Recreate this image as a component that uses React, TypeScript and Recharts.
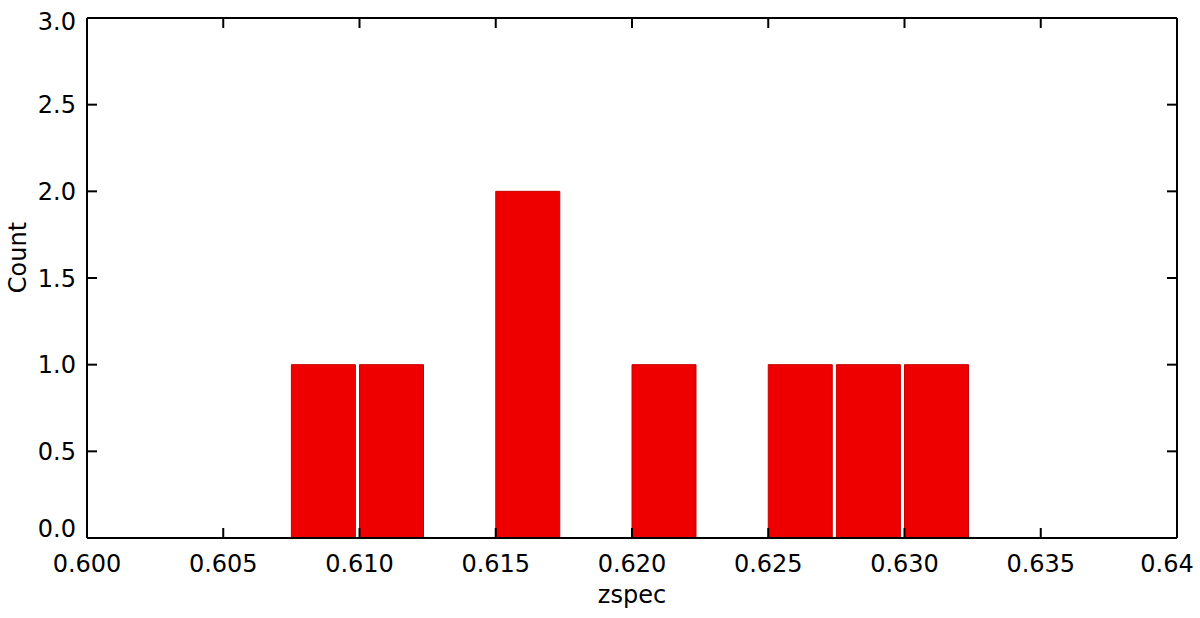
import React from 'react';
import { ComposedChart, Bar, XAxis, YAxis, Rectangle, Label } from 'recharts';

const binStarts = [0.6, 0.6025, 0.605, 0.6075, 0.61, 0.6125, 0.615, 0.6175, 0.62, 0.6225, 0.625, 0.6275, 0.63, 0.6325, 0.635, 0.6375];
const counts = [0, 0, 0, 1, 1, 0, 2, 0, 1, 0, 1, 1, 1, 0, 0, 0];
const xTicks = [0.6, 0.605, 0.61, 0.615, 0.62, 0.625, 0.63, 0.635, 0.64];
const xTickLabels = ['0.600', '0.605', '0.610', '0.615', '0.620', '0.625', '0.630', '0.635', '0.64'];
const yTicks = [0, 0.5, 1, 1.5, 2, 2.5, 3];
const yTickLabels = ['0.0', '0.5', '1.0', '1.5', '2.0', '2.5', '3.0'];

const data = binStarts.map((b, i) => ({ bin: b, x0: b, count: counts[i] }));

const FONT = '"DejaVu Sans", sans-serif';
const FS = 24;
const XDOM: [number, number] = [0.6, 0.64];
const YDOM: [number, number] = [0, 3];
const THIN = 0.01;

const XTick = (props: any) => {
  const { x, y, index, payload } = props;
  const i = xTicks.indexOf(payload.value);
  const label = i >= 0 ? xTickLabels[i] : String(payload.value);
  const dx = index === xTicks.length - 1 ? -10 : 0;
  return (
    <text x={x + dx} y={y} dy="0.71em" textAnchor="middle" fontFamily={FONT} fontSize={FS} fill="#000">
      {label}
    </text>
  );
};

const YTick = (props: any) => {
  const { x, y, index, payload } = props;
  const i = yTicks.indexOf(payload.value);
  const label = i >= 0 ? yTickLabels[i] : String(payload.value);
  let shift = 0;
  if (index === 0) shift = -10;
  if (index === yTicks.length - 1) shift = 3.5;
  return (
    <text x={x} y={y + shift} dy="0.355em" textAnchor="end" fontFamily={FONT} fontSize={FS} fill="#000">
      {label}
    </text>
  );
};

const BarShape = (props: any) => {
  const { x, y, width, height } = props;
  if (!height || height <= 0) return null;
  return <Rectangle x={x} y={y} width={width - 4} height={height} fill="#ee0000" stroke="#c80000" strokeWidth={1} />;
};

const frameLine = { stroke: '#000', strokeWidth: 2 };

export default function App() {
  return (
    <div style={{ position: 'absolute', left: 0, top: 0, width: 1200, height: 618, background: '#fff' }}>
      <ComposedChart width={1200} height={618} data={data} margin={{ top: 18, right: 23, bottom: 0, left: 0 }} barCategoryGap={0} barGap={0}>
        <XAxis
          xAxisId="labels"
          dataKey="x0"
          type="number"
          domain={XDOM}
          allowDataOverflow
          ticks={xTicks}
          interval={0}
          height={80}
          axisLine={false}
          tickLine={false}
          tickSize={0}
          tickMargin={17}
          tick={<XTick />}
        >
          <Label
            content={(p: any) => {
              const vb = p.viewBox || {};
              return (
                <text x={vb.x + vb.width / 2} y={vb.y + 65} textAnchor="middle" fontFamily={FONT} fontSize={FS} fill="#000">
                  zspec
                </text>
              );
            }}
          />
        </XAxis>
        <XAxis xAxisId="cat" dataKey="bin" type="category" hide height={0} />
        <XAxis
          xAxisId="frameBottom"
          dataKey="x0"
          type="number"
          domain={XDOM}
          allowDataOverflow
          ticks={xTicks}
          interval={0}
          mirror
          height={THIN}
          orientation="bottom"
          axisLine={frameLine}
          tickLine={frameLine}
          tickSize={10}
          tickFormatter={() => ''}
        />
        <XAxis
          xAxisId="frameTop"
          dataKey="x0"
          type="number"
          domain={XDOM}
          allowDataOverflow
          ticks={xTicks}
          interval={0}
          mirror
          height={THIN}
          orientation="top"
          axisLine={frameLine}
          tickLine={frameLine}
          tickSize={10}
          tickFormatter={() => ''}
        />
        <YAxis
          yAxisId="main"
          type="number"
          domain={YDOM}
          allowDataOverflow
          ticks={yTicks}
          interval={0}
          width={87}
          axisLine={false}
          tickLine={false}
          tickSize={0}
          tickMargin={11}
          tick={<YTick />}
        >
          <Label
            content={(p: any) => {
              const vb = p.viewBox || {};
              const cx = vb.x + 25.5;
              const cy = vb.y + vb.height / 2 - 20.5;
              return (
                <text x={cx} y={cy} transform={`rotate(-90 ${cx} ${cy})`} textAnchor="middle" fontFamily={FONT} fontSize={FS} fill="#000">
                  Count
                </text>
              );
            }}
          />
        </YAxis>
        <YAxis
          yAxisId="frameLeft"
          type="number"
          domain={YDOM}
          allowDataOverflow
          ticks={yTicks}
          interval={0}
          mirror
          width={THIN}
          orientation="left"
          axisLine={frameLine}
          tickLine={frameLine}
          tickSize={10}
          tickFormatter={() => ''}
        />
        <YAxis
          yAxisId="frameRight"
          type="number"
          domain={YDOM}
          allowDataOverflow
          ticks={yTicks}
          interval={0}
          mirror
          width={THIN}
          orientation="right"
          axisLine={frameLine}
          tickLine={frameLine}
          tickSize={10}
          tickFormatter={() => ''}
        />
        <Bar xAxisId="cat" yAxisId="main" dataKey="count" shape={<BarShape />} isAnimationActive={false} />
      </ComposedChart>
    </div>
  );
}
